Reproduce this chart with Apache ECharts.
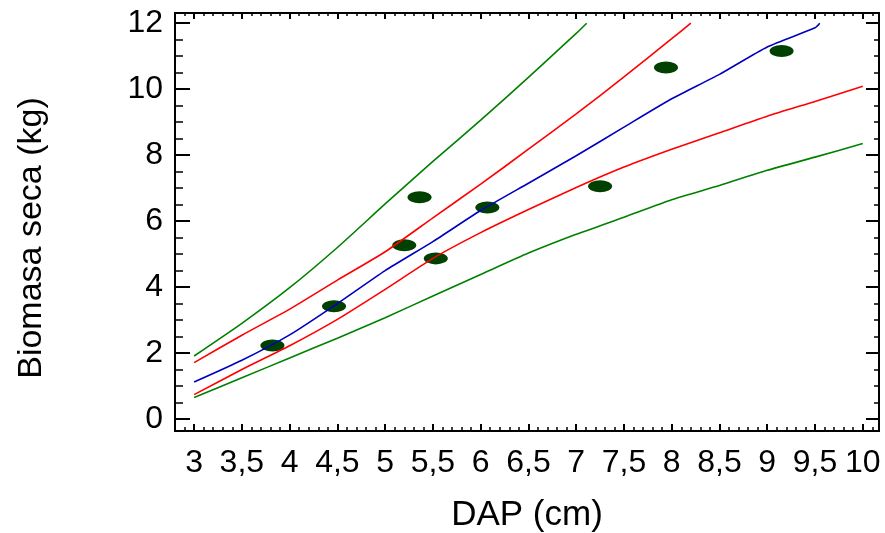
<!DOCTYPE html>
<html>
<head>
<meta charset="utf-8">
<script src="https://cdn.jsdelivr.net/npm/echarts@6/dist/echarts.min.js"></script>
<style>html,body{margin:0;padding:0;background:#fff}#chart{width:885px;height:533px}</style>
</head>
<body>
<div id="chart"></div>
<script>
// ---- data ----
const pointsX = [3.82, 4.465, 5.2, 5.36, 5.53, 6.07, 7.25, 7.94, 9.15];
const pointsY = [2.23, 3.42, 5.27, 6.72, 4.87, 6.41, 7.06, 10.66, 11.16];

const fitX = [3, 3.5, 4, 4.5, 5, 5.5, 6, 6.5, 7, 7.5, 8, 8.5, 9, 9.5, 9.55];
const fitY = [1.12, 1.78, 2.55, 3.5, 4.5, 5.38, 6.32, 7.15, 7.98, 8.85, 9.71, 10.45, 11.28, 11.86, 12.0];

const confUpX = [3, 3.5, 4, 4.5, 5, 5.5, 6, 6.5, 7, 7.5, 8, 8.2];
const confUpY = [1.71, 2.54, 3.33, 4.21, 5.07, 6.1, 7.12, 8.18, 9.25, 10.37, 11.53, 12.0];

const confLoX = [3, 3.5, 4, 4.5, 5, 5.5, 6, 6.5, 7, 7.5, 8, 8.5, 9, 9.5, 10];
const confLoY = [0.74, 1.5, 2.22, 3.02, 3.93, 4.87, 5.65, 6.35, 7.02, 7.64, 8.18, 8.68, 9.18, 9.63, 10.09];

const predUpX = [3, 3.5, 4, 4.5, 5, 5.5, 6, 6.5, 7, 7.11];
const predUpY = [1.91, 2.9, 3.98, 5.2, 6.52, 7.81, 9.06, 10.36, 11.69, 12.0];

const predLoX = [3, 3.5, 4, 4.5, 5, 5.5, 6, 6.5, 7, 7.5, 8, 8.5, 9, 9.5, 10];
const predLoY = [0.65, 1.25, 1.85, 2.45, 3.07, 3.73, 4.38, 5.03, 5.6, 6.12, 6.65, 7.08, 7.54, 7.94, 8.35];

const xMajorTicks = [3, 3.5, 4, 4.5, 5, 5.5, 6, 6.5, 7, 7.5, 8, 8.5, 9, 9.5, 10];
const xMinorTicks = [2.9,3.1,3.2,3.3,3.4,3.6,3.7,3.8,3.9,4.1,4.2,4.3,4.4,4.6,4.7,4.8,4.9,5.1,5.2,5.3,5.4,5.6,5.7,5.8,5.9,6.1,6.2,6.3,6.4,6.6,6.7,6.8,6.9,7.1,7.2,7.3,7.4,7.6,7.7,7.8,7.9,8.1,8.2,8.3,8.4,8.6,8.7,8.8,8.9,9.1,9.2,9.3,9.4,9.6,9.7,9.8,9.9,10.1];
const yMajorTicks = [0, 2, 4, 6, 8, 10, 12];
const yMinorTicks = [0.5,1,1.5,2.5,3,3.5,4.5,5,5.5,6.5,7,7.5,8.5,9,9.5,10.5,11,11.5];

const xName = 'DAP (cm)';
const yName = 'Biomasa seca (kg)';

// ---- chart ----
const pairs = (xs, ys) => xs.map((x, i) => [x, ys[i]]);
const fmt = v => String(v).replace('.', ',');
const FONT = "'Liberation Sans', Arial, sans-serif";
const XMIN = 2.8, XMAX = 10.17, YMIN = -0.364, YMAX = 12.31;

function ax(pos, min, max, ticks, len, width, opts) {
  return Object.assign({
    type: 'value', position: pos, min: min, max: max,
    axisLine: { show: true, onZero: false, lineStyle: { color: '#000', width: 2 } },
    axisTick: { show: true, inside: true, length: len, customValues: ticks, lineStyle: { color: '#000', width: width } },
    axisLabel: { show: false },
    splitLine: { show: false }
  }, opts || {});
}

const lineSeries = (name, xs, ys, color) => ({
  name, type: 'line', data: pairs(xs, ys), showSymbol: false, symbol: 'none',
  smooth: 0.2, lineStyle: { color, width: 1.6 }, z: 5, silent: true
});

const chart = echarts.init(document.getElementById('chart'), null, { renderer: 'canvas' });
chart.setOption({
  animation: false,
  backgroundColor: '#fff',
  grid: { left: 175, right: 6, top: 13, bottom: 102, containLabel: false, outerBoundsMode: 'none' },
  xAxis: [
    ax('bottom', XMIN, XMAX, xMajorTicks, 7, 2, {
      name: xName, nameLocation: 'middle', nameGap: 67,
      nameTextStyle: { fontFamily: FONT, fontSize: 35, color: '#000' },
      axisLabel: { show: true, customValues: xMajorTicks, formatter: fmt, fontFamily: FONT, fontSize: 32, color: '#000', margin: 16 }
    }),
    ax('bottom', XMIN, XMAX, xMinorTicks, 4, 1.5),
    ax('top', XMIN, XMAX, xMajorTicks, 6, 2),
    ax('top', XMIN, XMAX, xMinorTicks, 3, 1.5)
  ],
  yAxis: [
    ax('left', YMIN, YMAX, yMajorTicks, 15, 2, {
      name: yName, nameLocation: 'middle', nameGap: 126,
      nameTextStyle: { fontFamily: FONT, fontSize: 34, color: '#000', padding: [0, 32, 0, 0] },
      axisLabel: { show: true, customValues: yMajorTicks, fontFamily: FONT, fontSize: 32, color: '#000', margin: 12 }
    }),
    ax('left', YMIN, YMAX, yMinorTicks, 8, 1.5),
    ax('right', YMIN, YMAX, yMajorTicks, 13, 2),
    ax('right', YMIN, YMAX, yMinorTicks, 5, 1.5)
  ],
  series: [
    { name: 'obs', type: 'scatter', data: pairs(pointsX, pointsY), symbol: 'circle', symbolSize: [24, 12],
      itemStyle: { color: '#004000', opacity: 1 }, z: 2 },
    lineSeries('predUp', predUpX, predUpY, '#008000'),
    lineSeries('predLo', predLoX, predLoY, '#008000'),
    lineSeries('confUp', confUpX, confUpY, '#ff0000'),
    lineSeries('confLo', confLoX, confLoY, '#ff0000'),
    lineSeries('fit', fitX, fitY, '#0000c0')
  ]
});
</script>
</body>
</html>
